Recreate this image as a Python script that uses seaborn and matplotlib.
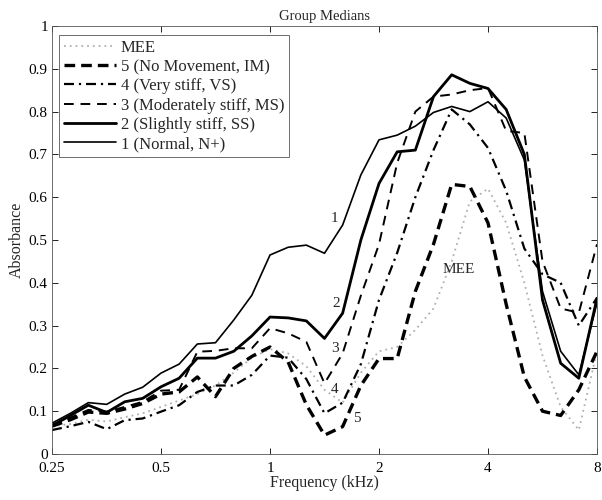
import numpy as np
import pandas as pd
import matplotlib
matplotlib.use("Agg")
import matplotlib.pyplot as plt
import matplotlib.ticker as mticker
import seaborn as sns

# 1/6-octave frequencies (kHz)
freqs = [0.25, 0.281, 0.315, 0.354, 0.397, 0.445, 0.5, 0.561, 0.63, 0.707, 0.794,
         0.891, 1.0, 1.122, 1.26, 1.414, 1.587, 1.782, 2.0, 2.245, 2.52, 2.828,
         3.175, 3.564, 4.0, 4.49, 5.04, 5.657, 6.35, 7.127, 8.0]

# group median absorbance
mee = [0.065, 0.070, 0.080, 0.076, 0.086, 0.095, 0.110, 0.125, 0.140, 0.160, 0.190,
       0.225, 0.245, 0.235, 0.205, 0.150, 0.120, 0.190, 0.240, 0.250, 0.290, 0.340,
       0.450, 0.590, 0.620, 0.540, 0.400, 0.230, 0.110, 0.056, 0.240]
no_move = [0.065, 0.080, 0.098, 0.095, 0.105, 0.118, 0.140, 0.145, 0.180, 0.134, 0.200,
           0.228, 0.250, 0.215, 0.115, 0.044, 0.064, 0.160, 0.223, 0.223, 0.380, 0.490,
           0.630, 0.625, 0.540, 0.350, 0.180, 0.100, 0.090, 0.150, 0.240]
very_stiff = [0.056, 0.065, 0.075, 0.058, 0.079, 0.083, 0.099, 0.114, 0.145, 0.160, 0.160,
              0.185, 0.230, 0.225, 0.175, 0.095, 0.120, 0.210, 0.360, 0.470, 0.600, 0.710,
              0.805, 0.770, 0.715, 0.615, 0.480, 0.420, 0.400, 0.300, 0.365]
mod_stiff = [0.068, 0.085, 0.103, 0.099, 0.110, 0.122, 0.148, 0.150, 0.239, 0.241, 0.247,
             0.247, 0.294, 0.282, 0.262, 0.165, 0.235, 0.370, 0.490, 0.680, 0.800, 0.835,
             0.840, 0.850, 0.855, 0.755, 0.750, 0.450, 0.340, 0.330, 0.490]
slight_stiff = [0.066, 0.090, 0.114, 0.097, 0.122, 0.130, 0.157, 0.177, 0.224, 0.224, 0.240,
                0.276, 0.320, 0.318, 0.311, 0.270, 0.329, 0.500, 0.632, 0.706, 0.710, 0.835,
                0.886, 0.866, 0.854, 0.805, 0.700, 0.360, 0.212, 0.177, 0.364]
normal = [0.072, 0.095, 0.120, 0.116, 0.140, 0.156, 0.189, 0.210, 0.257, 0.260, 0.313,
          0.371, 0.465, 0.483, 0.488, 0.469, 0.535, 0.652, 0.734, 0.745, 0.766, 0.798,
          0.812, 0.800, 0.823, 0.785, 0.687, 0.380, 0.240, 0.185, 0.353]

labels = ["MEE", "5 (No Movement, IM)", "4 (Very stiff, VS)",
          "3 (Moderately stiff, MS)", "2 (Slightly stiff, SS)", "1 (Normal, N+)"]
series = [mee, no_move, very_stiff, mod_stiff, slight_stiff, normal]

# line styles for each group, same order as labels
styles = [
    dict(color="#b0b0b0", linewidth=1.3, linestyle=(0, (1, 2.2))),
    dict(color="black", linewidth=2.4, linestyle=(0, (3.2, 1.8))),
    dict(color="black", linewidth=1.6, linestyle=(0, (4.5, 2.2, 1, 2.2))),
    dict(color="black", linewidth=1.4, linestyle=(0, (5, 3.5))),
    dict(color="black", linewidth=2.0, linestyle="-"),
    dict(color="black", linewidth=1.2, linestyle="-"),
]

sns.set_style("ticks")
plt.rcParams["font.family"] = ["Liberation Serif", "DejaVu Serif"]

fig, ax = plt.subplots(figsize=(6.02, 5.0), dpi=100)
fig.subplots_adjust(left=0.0864, right=0.9917, bottom=0.092, top=0.948)

for lab, vals, st in zip(labels, series, styles):
    df = pd.DataFrame({"freq": freqs, "absorbance": vals})
    sns.lineplot(data=df, x="freq", y="absorbance", ax=ax, label=lab, **st)

ax.set_xscale("log", base=2)
ax.set_xlim(0.25, 8)
ax.set_ylim(0, 1)
ax.set_xticks([0.25, 0.5, 1, 2, 4, 8])
ax.xaxis.set_major_formatter(mticker.FuncFormatter(lambda v, p: f"{v:g}"))
ax.xaxis.set_minor_locator(mticker.NullLocator())
ax.set_yticks(np.arange(0, 1.01, 0.1))
ax.yaxis.set_major_formatter(mticker.FuncFormatter(lambda v, p: f"{v:g}"))
ax.tick_params(direction="in", top=True, right=True, length=4, width=0.6,
               labelsize=11, colors="black", pad=3)
ax.tick_params(axis="x", pad=6)
for sp in ax.spines.values():
    sp.set_visible(True)
    sp.set_linewidth(0.6)
    sp.set_color("#555555")

ax.set_title("Group Medians", fontsize=10.5, pad=4)
ax.set_xlabel("Frequency (kHz)", fontsize=11.5, labelpad=0)
ax.set_ylabel("Absorbance", fontsize=11.5, labelpad=3)

# curve labels
ax.text(1.51, 0.551, "1", fontsize=11, ha="center", va="center")
ax.text(1.52, 0.352, "2", fontsize=11, ha="center", va="center")
ax.text(1.51, 0.247, "3", fontsize=11, ha="center", va="center")
ax.text(1.51, 0.151, "4", fontsize=11, ha="center", va="center")
ax.text(1.735, 0.083, "5", fontsize=11, ha="center", va="center")
ax.text(3.31, 0.43, "MEE", fontsize=11, ha="center", va="center")

leg = ax.legend(loc="upper left", bbox_to_anchor=(0.013, 0.98), fontsize=12,
                frameon=True, fancybox=False, framealpha=1, edgecolor="#555555",
                handlelength=3.1, handletextpad=0.3, labelspacing=0.2,
                borderpad=0.3, borderaxespad=0)
leg.get_frame().set_linewidth(0.6)

plt.savefig("out.png", dpi=100)
